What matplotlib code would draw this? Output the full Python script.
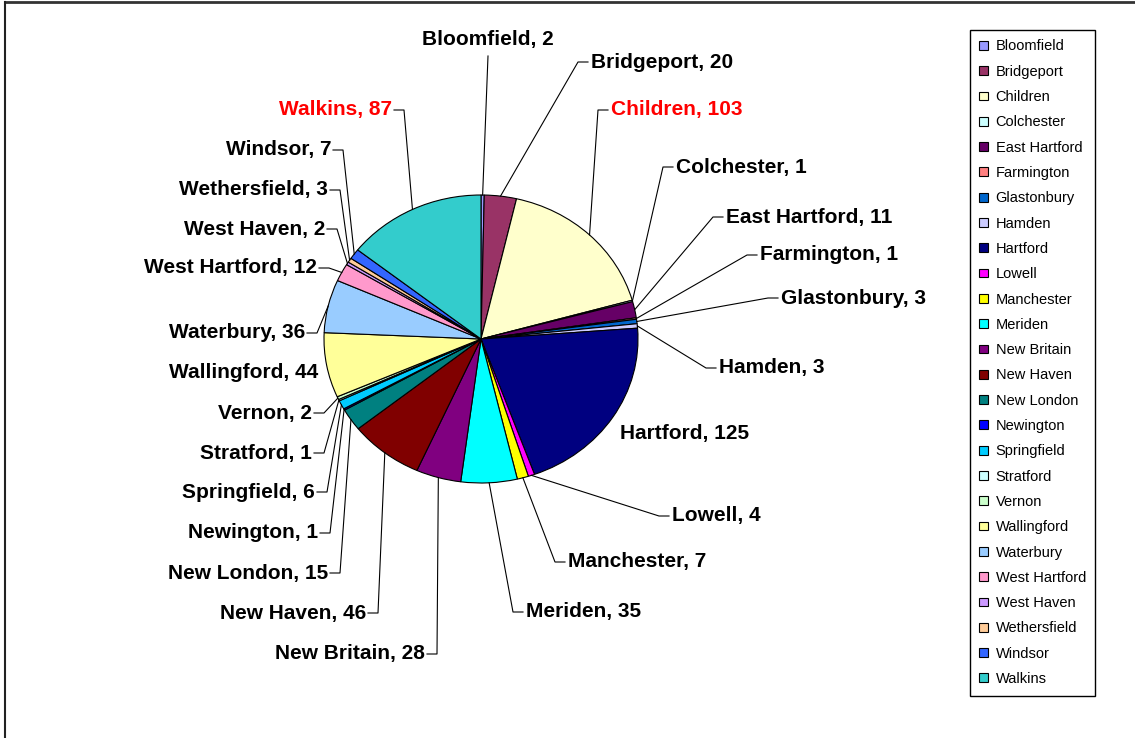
import matplotlib.pyplot as plt
import numpy as np

plt.rcParams['font.family'] = ['Liberation Sans', 'DejaVu Sans']

towns = ['Bloomfield', 'Bridgeport', 'Children', 'Colchester', 'East Hartford',
         'Farmington', 'Glastonbury', 'Hamden', 'Hartford', 'Lowell', 'Manchester',
         'Meriden', 'New Britain', 'New Haven', 'New London', 'Newington',
         'Springfield', 'Stratford', 'Vernon', 'Wallingford', 'Waterbury',
         'West Hartford', 'West Haven', 'Wethersfield', 'Windsor', 'Walkins']
counts = [2, 20, 103, 1, 11, 1, 3, 3, 125, 4, 7, 35, 28, 46, 15, 1, 6, 1, 2, 44,
          36, 12, 2, 3, 7, 87]
colors = ['#9999FF', '#993366', '#FFFFCC', '#CCFFFF', '#660066', '#FF8080',
          '#0066CC', '#CCCCFF', '#000080', '#FF00FF', '#FFFF00', '#00FFFF',
          '#800080', '#800000', '#008080', '#0000FF', '#00CCFF', '#CCFFFF',
          '#CCFFCC', '#FFFF99', '#99CCFF', '#FF99CC', '#CC99FF', '#FFCC99',
          '#3366FF', '#33CCCC']
highlight = ['Children', 'Walkins']

# label anchors in pixels: (x, y, side) - 'L' text sits left of its leader,
# 'R' text sits right of it, 'T' text above; 'l'/'r' = same but no leader
label_pos = [(488, 40, 'T'), (591, 62, 'R'), (611, 110, 'R'), (676, 167, 'R'),
             (726, 217, 'R'), (760, 255, 'R'), (781, 298, 'R'), (719, 368, 'R'),
             (620, 433, 'r'), (672, 516, 'R'), (568, 562, 'R'), (526, 612, 'R'),
             (425, 654, 'L'), (366, 613, 'L'), (328, 573, 'L'), (318, 533, 'L'),
             (315, 492, 'L'), (312, 453, 'L'), (312, 413, 'L'), (318, 373, 'l'),
             (305, 333, 'L'), (317, 268, 'L'), (325, 229, 'L'), (328, 190, 'L'),
             (331, 150, 'L'), (392, 110, 'L')]

W, H = 1135, 738
cx, cy, rx, ry = 481, 339, 157, 144

fig = plt.figure(figsize=(W / 100, H / 100), dpi=100)

ax_pie = fig.add_axes([(cx - rx) / W, (H - cy - ry) / H, 2 * rx / W, 2 * ry / H])
wedges, _ = ax_pie.pie(counts, colors=colors, startangle=90, counterclock=False,
                       wedgeprops=dict(edgecolor='black', linewidth=0.8))
ax_pie.set_aspect('auto')
ax_pie.set_xlim(-1, 1)
ax_pie.set_ylim(-1, 1)

ax = fig.add_axes([0, 0, 1, 1], zorder=2)
ax.set_xlim(0, W)
ax.set_ylim(H, 0)
ax.axis('off')
ax.patch.set_alpha(0)

# chart area border (top and left edges)
ax.plot([5, W], [2, 2], color='#333333', lw=2)
ax.plot([5, 5], [2, H], color='#222222', lw=1.5)

total = sum(counts)
cum = np.cumsum([0] + counts[:-1])
for name, n, c0, (lx, ly, side) in zip(towns, counts, cum, label_pos):
    theta = 2 * np.pi * (c0 + n / 2) / total
    px = cx + rx * np.sin(theta)
    py = cy - ry * np.cos(theta)
    color = 'red' if name in highlight else 'black'
    ha = {'L': 'right', 'l': 'right', 'R': 'left', 'r': 'left', 'T': 'center'}[side]
    ax.text(lx, ly, f'{name}, {n}', ha=ha, va='center', fontsize=15,
            fontweight='bold', color=color)
    if side == 'L':
        ax.plot([lx + 2, lx + 12, px], [ly, ly, py], color='black', lw=0.8)
    elif side == 'R':
        ax.plot([lx - 3, lx - 13, px], [ly, ly, py], color='black', lw=0.8)
    elif side == 'T':
        ax.plot([lx, px], [ly + 16, py], color='black', lw=0.8)

leg = fig.legend(wedges, towns, loc='upper left',
                 bbox_to_anchor=(970 / W, 1 - 30 / H), fontsize=10.5,
                 frameon=True, fancybox=False, framealpha=1, edgecolor='black',
                 labelspacing=0.775, handlelength=0.55, handleheight=0.55,
                 handletextpad=0.55, borderpad=0.65, borderaxespad=0)
leg.get_frame().set_linewidth(1)
for h in leg.legend_handles:
    h.set_edgecolor('black')
    h.set_linewidth(0.8)

fig.savefig('out.png', dpi=100)
